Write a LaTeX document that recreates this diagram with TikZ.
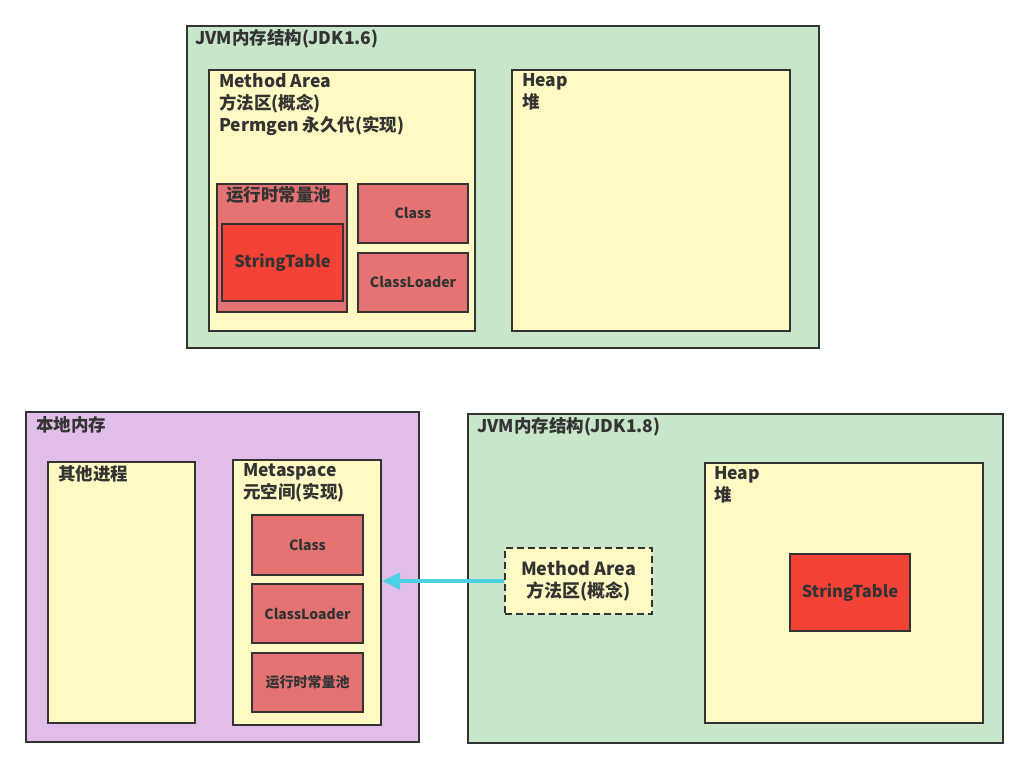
\documentclass[tikz,border=0pt]{standalone}
\usepackage{fontspec}
\setmainfont{Noto Sans CJK SC}
\usetikzlibrary{arrows.meta}

\definecolor{jvmgreen}{HTML}{C8E6C9}
\definecolor{areayellow}{HTML}{FFF9C4}
\definecolor{nativepurple}{HTML}{E1BEE7}
\definecolor{partred}{HTML}{E57373}
\definecolor{tablered}{HTML}{F44336}
\definecolor{edge}{HTML}{333333}
\definecolor{arrowcyan}{HTML}{4DD0E1}

\tikzset{
  box/.style={draw=edge, line width=2pt, anchor=north west, inner sep=0pt},
  lbl/.style={anchor=north west, inner sep=0pt, align=left, text=edge,
    font=\bfseries\fontsize{17.5}{22}\selectfont},
  part/.style={text=edge, font=\bfseries\fontsize{14}{16}\selectfont}
}

\begin{document}
\begin{tikzpicture}[x=1pt,y=-1pt]
\useasboundingbox (0,0) rectangle (1027,768);

% JDK 1.6
\node[box, fill=jvmgreen, minimum width=632pt, minimum height=322pt] (jvm6) at (186,25) {};
\node[lbl] (jvm6t) at (195,29) {JVM内存结构(JDK1.6)};

\node[box, fill=areayellow, minimum width=266pt, minimum height=261pt] (perm) at (208,69) {};
\node[lbl] (permt) at (219,73) {Method Area\\方法区(概念)\\Permgen 永久代(实现)};

\node[box, fill=areayellow, minimum width=278pt, minimum height=261pt] (heap6) at (511,69) {};
\node[lbl] (heap6t) at (522,73) {Heap\\堆};

\node[box, fill=partred, minimum width=130pt, minimum height=128pt] (pool6) at (216,183) {};
\node[lbl] (pool6t) at (226,186) {运行时常量池};
\node[box, fill=tablered, minimum width=121pt, minimum height=77pt, part,
  font=\bfseries\fontsize{16.5}{18}\selectfont] (str6) at (221,223) {StringTable};

\node[box, fill=partred, minimum width=110pt, minimum height=59pt, part] (class6) at (357,183) {Class};
\node[box, fill=partred, minimum width=110pt, minimum height=59pt, part] (loader6) at (357,252) {ClassLoader};

% native memory
\node[box, fill=nativepurple, minimum width=393pt, minimum height=330pt] (native) at (25,411) {};
\node[lbl] (nativet) at (36,416) {本地内存};

\node[box, fill=areayellow, minimum width=147pt, minimum height=261pt] (other) at (47,461) {};
\node[lbl] (othert) at (58,465) {其他进程};

\node[box, fill=areayellow, minimum width=148pt, minimum height=265pt] (meta) at (232,459) {};
\node[lbl] (metat) at (243,463) {Metaspace\\元空间(实现)};

\node[box, fill=partred, minimum width=111pt, minimum height=60pt, part] (class8) at (251,514) {Class};
\node[box, fill=partred, minimum width=111pt, minimum height=59pt, part] (loader8) at (251,583) {ClassLoader};
\node[box, fill=partred, minimum width=111pt, minimum height=59pt, part] (pool8) at (251,652) {运行时常量池};

% JDK 1.8
\node[box, fill=jvmgreen, minimum width=535pt, minimum height=329pt] (jvm8) at (467,413) {};
\node[lbl] (jvm8t) at (477,417) {JVM内存结构(JDK1.8)};

\node[box, fill=areayellow, minimum width=278pt, minimum height=260pt] (heap8) at (704,462) {};
\node[lbl] (heap8t) at (714,466) {Heap\\堆};

\node[box, fill=tablered, minimum width=120pt, minimum height=77pt, part,
  font=\bfseries\fontsize{16.5}{18}\selectfont] (str8) at (789,553) {StringTable};

\node[box, fill=areayellow, dash pattern=on 7pt off 4pt, minimum width=147pt, minimum height=66pt,
  align=center, text=edge, font=\bfseries\fontsize{18}{22}\selectfont] (ma8) at (504,547) {Method Area\\方法区(概念)};

\draw[-{Triangle[length=18pt,width=16pt]}, line width=4pt, arrowcyan] (ma8.west) -- (ma8.west -| meta.east);

\end{tikzpicture}
\end{document}
